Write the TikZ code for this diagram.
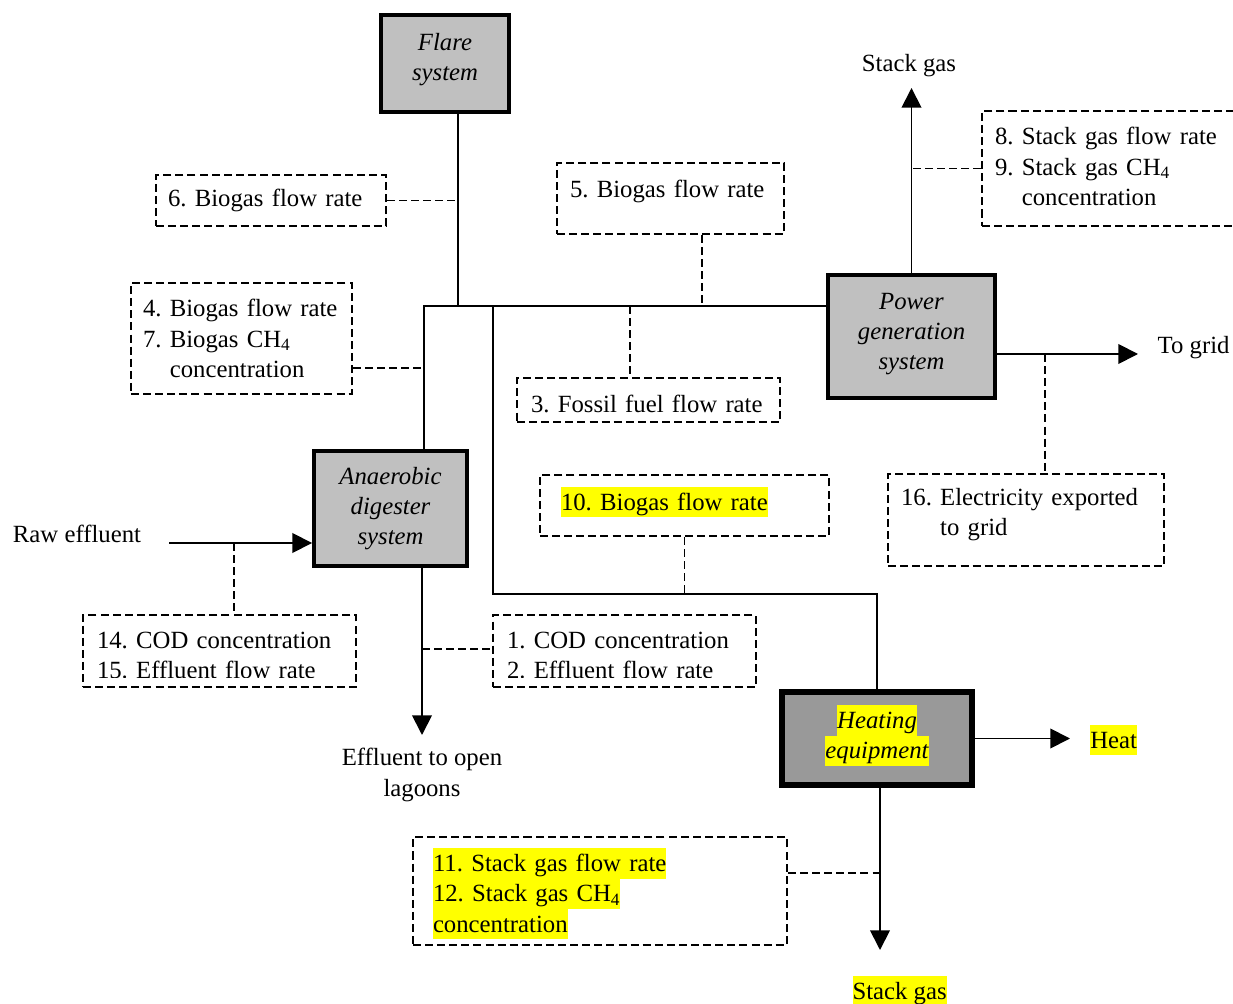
\documentclass[tikz,border=0pt]{standalone}
\usepackage{fontspec}
\setmainfont{Liberation Serif}
\usetikzlibrary{arrows.meta}
\definecolor{boxgray}{HTML}{C0C0C0}
\definecolor{heatgray}{HTML}{999999}
\definecolor{marker}{HTML}{FFFF00}
\newcommand{\figfont}{\fontsize{17.6}{21.5}\selectfont\frenchspacing}
\newcommand{\hl}[1]{{\setlength{\fboxsep}{0pt}\colorbox{marker}{\rule[-5pt]{0pt}{21.5pt}#1}}}
\tikzset{
  unit/.style={draw, line width=2.8pt, fill=boxgray, align=center, inner sep=0pt, font=\figfont\itshape},
  probe/.style={draw, line width=1.3pt, dash pattern=on 5.7pt off 2.9pt, align=left, inner ysep=0pt},
  pipe/.style={line width=1.3pt},
  flow/.style={line width=1.3pt, -{Triangle[length=14pt,width=14pt]}},
  tap/.style={line width=1.3pt, dash pattern=on 5.7pt off 2.9pt},
}
\begin{document}
\begin{tikzpicture}[every node/.style={font=\figfont}]
\useasboundingbox (0,0) rectangle (30.825,25.075);
\node[unit, minimum width=3.2cm, minimum height=2.425cm, text depth=9.4pt] (flare) at (11.125,23.4875) {Flare\\system};
\node[unit, minimum width=4.175cm, minimum height=3.075cm, text depth=7.4pt] (power) at (22.7875,16.6625) {Power\\generation\\system};
\node[unit, minimum width=3.825cm, minimum height=2.875cm] (digester) at (9.7625,12.3625) {Anaerobic\\digester\\system};
\node[unit, fill=heatgray, line width=4.2pt, minimum width=4.75cm, minimum height=2.325cm, text depth=9.2pt] (heater) at (21.925,6.6125) {\hl{Heating}\\\hl{equipment}};

\node[probe, text width=5.15cm, minimum height=1.275cm, inner xsep=0.3cm] (flow6) at (6.775,20.0625) {6. Biogas flow rate};
\node[probe, text width=5.025cm, minimum height=1.775cm, inner xsep=0.325cm, text depth=13.3pt] (flow5) at (16.7625,20.1125) {5. Biogas flow rate};
\node[probe, text width=5.9cm, minimum height=2.875cm, inner xsep=0.325cm, text depth=46pt] (stack89) at (27.825,20.8625) {8. Stack gas flow rate\\9. Stack gas CH\textsubscript{4}\\\hphantom{9. }concentration};
\node[probe, text width=4.925cm, minimum height=2.775cm, inner xsep=0.3cm] (flow47) at (6.0375,16.6125) {4. Biogas flow rate\\7. Biogas CH\textsubscript{4}\\\hphantom{7. }concentration};
\node[probe, text width=5.875cm, minimum height=1.1cm, inner xsep=0.35cm, text height=18pt] (fossil) at (16.2125,15.075) {3. Fossil fuel flow rate};
\node[probe, text width=6.175cm, minimum height=1.525cm, inner xsep=0.525cm, text depth=10pt] (flow10) at (17.1125,12.4375) {\hl{10. Biogas flow rate}};
\node[probe, text width=6.25cm, minimum height=2.3cm, inner xsep=0.325cm, text depth=33pt] (export) at (25.65,12.075) {16. Electricity exported\\\hphantom{16. }to grid};
\node[probe, minimum width=6.825cm, minimum height=1.8cm] (codin) at (5.4875,8.8) {};
\node[probe, minimum width=6.575cm, minimum height=1.8cm] (codout) at (15.6125,8.8) {};
\node[probe, text width=8.35cm, minimum height=2.7cm, inner xsep=0.5cm, text height=20.5pt] (stack1112) at (15,2.8) {\hl{11. Stack gas flow rate}\\\hl{12. Stack gas CH\textsubscript{4}}\\\hl{concentration}};
\begin{scope}
\clip ([yshift=0.25cm]codin.south west) rectangle (codin.north east);
\node[text width=6.125cm, align=left, inner sep=0pt] (codintext) at ([yshift=-0.11cm]codin.center) {14. COD concentration\\15. Effluent flow rate};
\end{scope}
\begin{scope}
\clip ([yshift=0.25cm]codout.south west) rectangle (codout.north east);
\node[text width=5.875cm, align=left, inner sep=0pt] (codouttext) at ([yshift=-0.11cm]codout.center) {1. COD concentration\\2. Effluent flow rate};
\end{scope}

\node (stacktop) at (22.725,23.425) {Stack gas};
\node (togrid) at (29.84,16.375) {To grid};
\node (raw) at (1.925,11.725) {Raw effluent};
\node[align=center] (lagoon) at (10.55,5.7) {Effluent to open\\lagoons};
\node[inner sep=0pt] (heat) at (27.84,6.575) {\hl{Heat}};
\node[inner sep=0pt] (stackbot) at (22.49,0.3) {\hl{Stack gas}};

\coordinate (jL) at (10.6,17.425);
\coordinate (jF) at (11.45,17.425);
\coordinate (jH) at (12.325,17.425);
\coordinate (j3) at (15.75,17.425);
\coordinate (j5) at (17.55,17.425);
\coordinate (j4) at (10.6,15.875);
\coordinate (jB) at (12.325,10.225);
\coordinate (jE) at (26.125,16.225);
\coordinate (gridend) at (28.45,16.225);
\coordinate (stackup) at (22.7875,22.875);
\coordinate (rawstart) at (4.225,11.5);
\coordinate (jR) at (5.85,11.5);
\coordinate (lagoonend) at (10.55,6.7);
\coordinate (jD) at (10.55,8.85);
\coordinate (heatend) at (26.75,6.6125);
\coordinate (stackdown) at (22,1.325);
\coordinate (jS) at (22,3.25);

\draw[pipe] (jF |- flare.south) -- (jF);
\draw[pipe] (jL |- digester.north) -- (jL) -- (jL -| power.west);
\draw[pipe] (jH) -- (jB) -- (jB -| heater.north) -- (heater.north);
\draw[flow] (power.north) -- (stackup);
\draw[flow] (gridend -| power.east) -- (gridend);
\draw[flow] (rawstart) -- (rawstart -| digester.west);
\draw[flow] (lagoonend |- digester.south) -- (lagoonend);
\draw[flow] (heater.east) -- (heatend);
\draw[flow] (stackdown |- heater.south) -- (stackdown);

\draw[tap] (flow6.east) -- (flow6.east -| jF);
\draw[tap] (flow5.south -| j5) -- (j5);
\draw[tap] (stack89.west) -- (stack89.west -| power.north);
\draw[tap] (j4 -| flow47.east) -- (j4);
\draw[tap] (j3) -- (j3 |- fossil.north);
\draw[tap] (flow10.south) -- (flow10.south |- jB);
\draw[tap] (jE) -- (jE |- export.north);
\draw[tap] (jR) -- (jR |- codin.north);
\draw[tap] (jD) -- (jD -| codout.west);
\draw[tap] (stack1112.east |- jS) -- (jS);
\end{tikzpicture}
\end{document}
